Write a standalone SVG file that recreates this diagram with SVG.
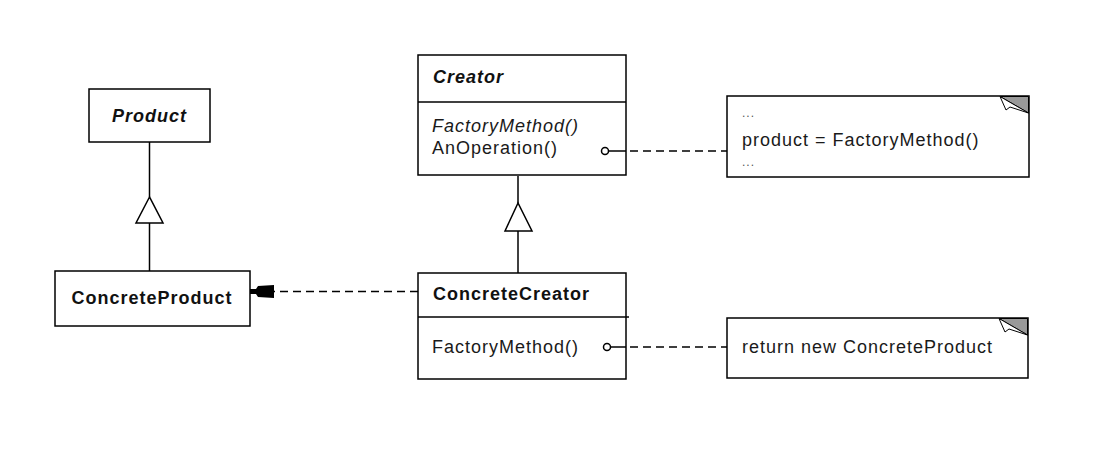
<svg xmlns="http://www.w3.org/2000/svg" width="1110" height="464" viewBox="0 0 1110 464">
<style>
.box{fill:#fff;stroke:#000;stroke-width:1.5}
.ln{fill:none;stroke:#000;stroke-width:1.5}
.dash{fill:none;stroke:#000;stroke-width:1.5;stroke-dasharray:8 5}
.tri{fill:#fff;stroke:#000;stroke-width:1.5}
.t{font-family:"Liberation Sans",Arial,sans-serif;font-size:18px;letter-spacing:1px;fill:#1a1a1a}
.b{font-weight:bold;fill:#111}
.i{font-style:italic}
.dots{font-size:12px;fill:#555}
.fold{fill:#999;stroke:#000;stroke-width:1}
.flap{fill:#fff;stroke:#000;stroke-width:1}
.port{fill:#fff;stroke:#000;stroke-width:1.5}
</style>
<rect width="1110" height="464" fill="#fff"/>
<g id="Product">
  <rect class="box" x="89" y="89" width="121" height="53"/>
  <text class="t b i" x="149.5" y="122" text-anchor="middle">Product</text>
</g>
<g id="ConcreteProduct">
  <rect class="box" x="55" y="271" width="195" height="55"/>
  <text class="t b" x="152" y="304" text-anchor="middle">ConcreteProduct</text>
</g>
<g id="Creator">
  <rect class="box" x="418" y="55" width="208" height="120"/>
  <line class="ln" x1="418" y1="102" x2="626" y2="102"/>
  <text class="t b i" x="433" y="83">Creator</text>
  <text class="t i" x="432" y="132">FactoryMethod()</text>
  <text class="t" x="432" y="154">AnOperation()</text>
</g>
<g id="ConcreteCreator">
  <rect class="box" x="418" y="273" width="208" height="106"/>
  <line class="ln" x1="418" y1="317" x2="629" y2="317"/>
  <text class="t b" x="433" y="300">ConcreteCreator</text>
  <text class="t" x="432" y="353">FactoryMethod()</text>
</g>
<g id="note1">
  <rect class="box" x="727" y="96" width="302" height="81"/>
  <polygon class="fold" points="1000,96.5 1028.5,96.5 1028.5,113"/>
  <polygon class="flap" points="1000,96.5 1006,110 1010,107 1028.5,113"/>
  <text class="t dots" x="742" y="117">...</text>
  <text class="t" x="742" y="146">product = FactoryMethod()</text>
  <text class="t dots" x="742" y="166">...</text>
</g>
<g id="note2">
  <rect class="box" x="727" y="318" width="301" height="60"/>
  <polygon class="fold" points="999,318.5 1027.5,318.5 1027.5,335"/>
  <polygon class="flap" points="999,318.5 1005,332 1009,329 1027.5,335"/>
  <text class="t" x="742" y="353">return new ConcreteProduct</text>
</g>
<g id="connectors">
  <line class="ln" x1="149.5" y1="142" x2="149.5" y2="197"/>
  <polygon class="tri" points="149.5,197 136,223 163,223"/>
  <line class="ln" x1="149.5" y1="223" x2="149.5" y2="271"/>
  <line class="ln" x1="518" y1="176" x2="518" y2="203"/>
  <polygon class="tri" points="518,203 505,231 532,231"/>
  <line class="ln" x1="518" y1="231" x2="518" y2="273"/>
  <line class="dash" x1="418" y1="291.5" x2="274" y2="291.5"/>
  <polygon points="250,289 256,289 258,286 274,285 274,298 258,297 256,294 250,294" fill="#000"/>
  <circle class="port" cx="605" cy="151" r="3.5"/>
  <line class="ln" x1="608.5" y1="151" x2="626" y2="151"/>
  <line class="dash" x1="630" y1="151" x2="727" y2="151"/>
  <circle class="port" cx="607" cy="347" r="3.5"/>
  <line class="ln" x1="610.5" y1="347" x2="626" y2="347"/>
  <line class="dash" x1="630" y1="347" x2="727" y2="347"/>
</g>
</svg>
